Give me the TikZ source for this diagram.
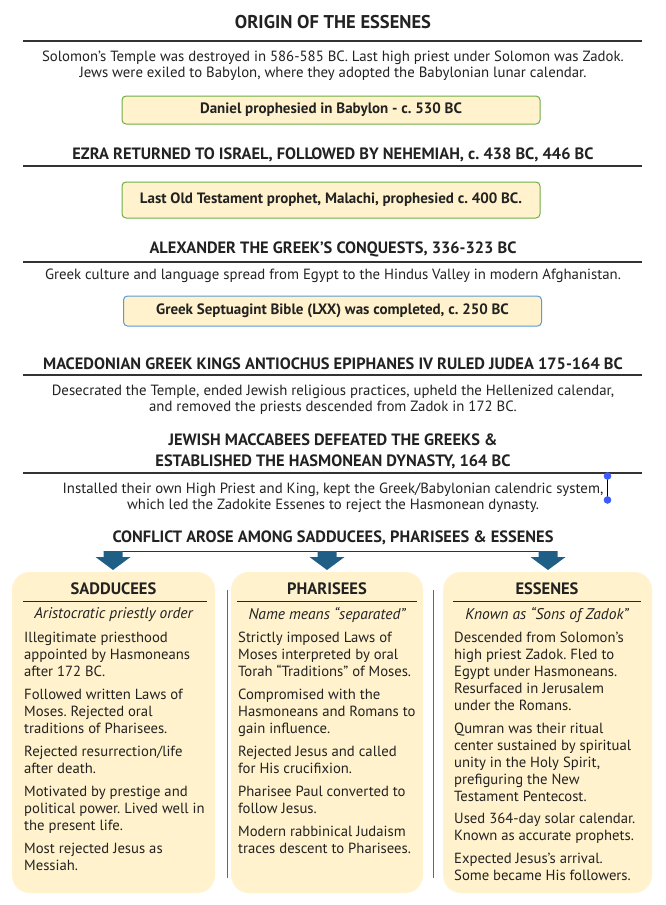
\documentclass[tikz,border=0pt]{standalone}
\usepackage{fontspec}
\setmainfont{PT Sans}
\frenchspacing
\definecolor{cream}{HTML}{FFF2CC}
\definecolor{greenb}{HTML}{70AD47}
\definecolor{blueb}{HTML}{5B9BD5}
\definecolor{sepblue}{HTML}{2E75B6}
\definecolor{arrowblue}{HTML}{1F5F86}
\definecolor{ink}{HTML}{222222}
\definecolor{handleblue}{HTML}{3D5BFF}
\begin{document}
\frenchspacing
\begin{tikzpicture}[x=1pt,y=-1pt,
  hd/.style={font=\fontsize{16.4}{21}\selectfont\bfseries, align=center, text=ink, inner sep=0},
  body/.style={font=\fontsize{14.8}{16}\selectfont, align=center, text=ink, inner sep=0},
  evbox/.style={draw, line width=1pt, fill=cream, rounded corners=4pt, font=\fontsize{15}{16}\selectfont\bfseries, text=ink, minimum width=418pt},
  rule/.style={draw=black!80, line width=1.4pt},
  colbox/.style={fill=cream, rounded corners=18pt},
  colhd/.style={font=\fontsize{16.5}{20}\selectfont\bfseries, text=ink, inner sep=0},
  colsub/.style={font=\fontsize{15.5}{17}\selectfont\itshape, text=ink, inner sep=0},
  coltext/.style={font=\fontsize{14.7}{17}\selectfont, align=left, text=ink, inner sep=0, anchor=north west},
  sep/.style={draw=sepblue, line width=1pt},
  downarrow/.pic={\fill[arrowblue] (-9.5,0) -- (9.5,0) -- (9.5,6) -- (17.5,6) -- (0,19) -- (-17.5,6) -- (-9.5,6) -- cycle;}
]
\useasboundingbox (0,0) rectangle (666,905);
\fill[white] (0,0) rectangle (666,905);

% Section 1
\node[hd, font=\fontsize{18.5}{22}\selectfont\bfseries] (h1) at (333,22) {ORIGIN OF THE ESSENES};
\coordinate (r1a) at (23,41); \coordinate (r1b) at (642,41);
\draw[rule] (r1a) -- (r1b);
\node[body] (p1) at (333,66) {Solomon’s Temple was destroyed in 586-585 BC. Last high priest under Solomon was Zadok.\\Jews were exiled to Babylon, where they adopted the Babylonian lunar calendar.};
\node[evbox, draw=greenb, minimum height=28pt] (b1) at (331,110) {Daniel prophesied in Babylon - c. 530 BC};

% Section 2
\node[hd] (h2) at (333,155) {EZRA RETURNED TO ISRAEL, FOLLOWED BY NEHEMIAH, c. 438 BC, 446 BC};
\coordinate (r2a) at (23,166); \coordinate (r2b) at (642,166);
\draw[rule] (r2a) -- (r2b);
\node[evbox, draw=greenb, minimum height=36pt] (b2) at (331,200) {Last Old Testament prophet, Malachi, prophesied c. 400 BC.};

% Section 3
\node[hd] (h3) at (333,249) {ALEXANDER THE GREEK’S CONQUESTS, 336-323 BC};
\coordinate (r3a) at (23,262); \coordinate (r3b) at (642,262);
\draw[rule] (r3a) -- (r3b);
\node[body] (p3) at (333,276) {Greek culture and language spread from Egypt to the Hindus Valley in modern Afghanistan.};
\node[evbox, draw=blueb, minimum height=30pt] (b3) at (332.5,311) {Greek Septuagint Bible (LXX) was completed, c. 250 BC};

% Section 4
\node[hd] (h4) at (333,364) {MACEDONIAN GREEK KINGS ANTIOCHUS EPIPHANES IV RULED JUDEA 175-164 BC};
\coordinate (r4a) at (23,375); \coordinate (r4b) at (642,375);
\draw[rule] (r4a) -- (r4b);
\node[body] (p4) at (333,400) {Desecrated the Temple, ended Jewish religious practices, upheld the Hellenized calendar,\\and removed the priests descended from Zadok in 172 BC.};

% Section 5
\node[hd] (h5) at (333,451.5) {JEWISH MACCABEES DEFEATED THE GREEKS \&\\ESTABLISHED THE HASMONEAN DYNASTY, 164 BC};
\coordinate (r5a) at (23,473); \coordinate (r5b) at (642,473);
\draw[rule] (r5a) -- (r5b);
\node[body] (p5) at (333,498) {Installed their own High Priest and King, kept the Greek/Babylonian calendric system,\\which led the Zadokite Essenes to reject the Hasmonean dynasty.};
% selection handle
\coordinate (hk1) at (607.5,476); \coordinate (hk2) at (607.5,500);
\draw[black, line width=1.8pt] (hk1) -- (hk2);
\fill[handleblue] (hk1) circle (3.8);
\fill[handleblue] (hk2) circle (3.8);

% Section 6
\node[hd] (h6) at (333,538) {CONFLICT AROSE AMONG SADDUCEES, PHARISEES \& ESSENES};
\coordinate (a1) at (113,551); \coordinate (a2) at (327,551); \coordinate (a3) at (548,551);
\draw[draw=black!80, line width=1pt] (a1) -- (a3);
\pic at (a1) {downarrow};
\pic at (a2) {downarrow};
\pic at (a3) {downarrow};

% Column boxes
\fill[colbox] (12,572) rectangle (215,893);
\fill[colbox] (231,572) rectangle (423,893);
\fill[colbox] (443,572) rectangle (652,893);
\coordinate (s1a) at (227,590); \coordinate (s1b) at (227,878);
\coordinate (s2a) at (433,590); \coordinate (s2b) at (433,878);
\draw[sep] (s1a) -- (s1b);
\draw[sep] (s2a) -- (s2b);

% Column 1
\node[colhd] (c1h) at (113.5,589) {SADDUCEES};
\coordinate (u1a) at (23,601); \coordinate (u1b) at (207,601);
\draw[draw=black!85, line width=1pt] (u1a) -- (u1b);
\node[colsub] (c1s) at (113.5,615) {Aristocratic priestly order};
\node[coltext] (c1t) at (24,632) {Illegitimate priesthood\\appointed by Hasmoneans\\after 172 BC.\\[6pt]Followed written Laws of\\Moses. Rejected oral\\traditions of Pharisees.\\[6pt]Rejected resurrection/life\\after death.\\[6pt]Motivated by prestige and\\political power. Lived well in\\the present life.\\[6pt]Most rejected Jesus as\\Messiah.};

% Column 2
\node[colhd] (c2h) at (327,589) {PHARISEES};
\coordinate (u2a) at (237,601); \coordinate (u2b) at (417,601);
\draw[draw=black!85, line width=1pt] (u2a) -- (u2b);
\node[colsub] (c2s) at (327,615) {Name means “separated”};
\node[coltext] (c2t) at (238,632) {Strictly imposed Laws of\\Moses interpreted by oral\\Torah “Traditions” of Moses.\\[6pt]Compromised with the\\Hasmoneans and Romans to\\gain influence.\\[6pt]Rejected Jesus and called\\for His crucifixion.\\[6pt]Pharisee Paul converted to\\follow Jesus.\\[6pt]Modern rabbinical Judaism\\traces descent to Pharisees.};

% Column 3
\node[colhd] (c3h) at (547,589) {ESSENES};
\coordinate (u3a) at (453,601); \coordinate (u3b) at (641,601);
\draw[draw=black!85, line width=1pt] (u3a) -- (u3b);
\node[colsub] (c3s) at (547,615) {Known as “Sons of Zadok”};
\node[coltext] (c3t) at (454,632) {Descended from Solomon’s\\high priest Zadok. Fled to\\Egypt under Hasmoneans.\\Resurfaced in Jerusalem\\under the Romans.\\[6pt]Qumran was their ritual\\center sustained by spiritual\\unity in the Holy Spirit,\\prefiguring the New\\Testament Pentecost.\\[5pt]Used 364-day solar calendar.\\Known as accurate prophets.\\[6pt]Expected Jesus’s arrival.\\Some became His followers.};
\end{tikzpicture}
\end{document}
